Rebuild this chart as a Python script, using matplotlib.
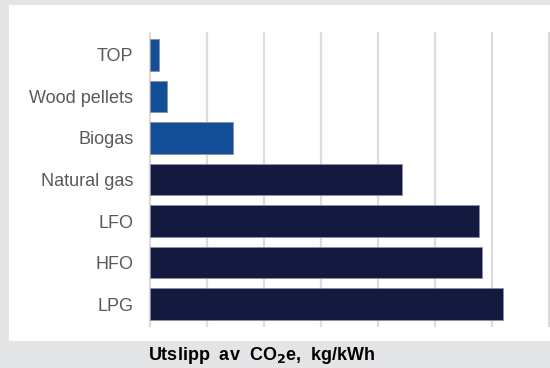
import matplotlib.pyplot as plt
from matplotlib.patches import Rectangle

# utslipp per drivstoff (kg CO2e per kWh)
drivstoff = ["TOP", "Wood pellets", "Biogas", "Natural gas", "LFO", "HFO", "LPG"]
utslipp = [0.008, 0.015, 0.073, 0.221, 0.289, 0.291, 0.310]
farger = ["#134f99", "#134f99", "#134f99", "#141a3f", "#141a3f", "#141a3f", "#141a3f"]

plt.rcParams["font.family"] = ["Liberation Sans", "DejaVu Sans"]

fig = plt.figure(figsize=(5.5, 3.68), dpi=100)
fig.patch.set_facecolor("#e3e4e6")

# hvit bakgrunn bak selve diagrammet
fig.patches.append(Rectangle((9 / 550, 1 - 341 / 368), 541 / 550, 336 / 368,
                             transform=fig.transFigure, facecolor="white",
                             edgecolor="none", zorder=0))

ax = fig.add_axes([150 / 550, 1 - 326 / 368, 399 / 550, 293 / 368])
ax.set_zorder(2)
ax.set_facecolor("none")

ax.barh(range(len(drivstoff)), utslipp, height=0.77, color=farger,
        edgecolor="#8a8fa3", linewidth=0.6, zorder=3)

ax.set_xlim(0, 0.35)
ax.set_ylim(6.53, -0.53)
ax.set_xticks([i * 0.05 for i in range(8)])
ax.set_xticklabels([])
ax.set_yticks(range(len(drivstoff)))
ax.set_yticklabels(drivstoff, fontsize=13, color="#595959")
ax.tick_params(axis="both", length=0, pad=12)
ax.grid(axis="x", color="#dcdcdc", linewidth=1.6, zorder=0)
ax.grid(axis="y", visible=False)
for s in ax.spines.values():
    s.set_visible(False)
for gl in ax.get_xgridlines():
    gl.set_clip_on(False)

fig.text(262 / 550, 1 - 356 / 368, "Utslipp  av  CO$_\\mathbf{2}$e,  kg/kWh",
         fontsize=13, fontweight="bold", ha="center", va="center", color="black",
         zorder=5)

fig.savefig("out.png", dpi=100, facecolor=fig.get_facecolor())
